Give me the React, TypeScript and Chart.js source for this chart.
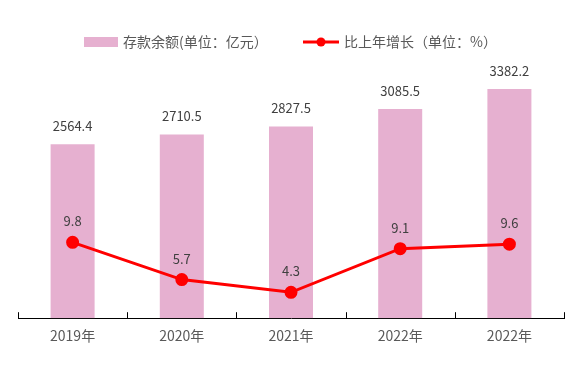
import React, { useEffect, useRef } from "react";
import { Chart, registerables } from "chart.js";

Chart.register(...registerables);

const categories = ["2019年", "2020年", "2021年", "2022年", "2022年"];
const depositValues = [2564.4, 2710.5, 2827.5, 3085.5, 3382.2];
const growthValues = [9.8, 5.7, 4.3, 9.1, 9.6];
const depositLabel = "存款余额(单位：亿元）";
const growthLabel = "比上年增长（单位：%）";

const BAR_MAX = 4000;
const RATE_MIN = 1.45;
const RATE_MAX = 31.3;

const PINK = "rgb(230,176,208)";
const RED = "#ff0000";
const FONT = '"Noto Sans CJK SC", "DejaVu Sans", sans-serif';

const extrasPlugin = {
  id: "extras",
  afterDraw(chart: any) {
    const ctx = chart.ctx as CanvasRenderingContext2D;
    const xs = chart.scales.x;
    ctx.save();
    // upward tick marks at category boundaries
    const n = categories.length;
    ctx.strokeStyle = "#000";
    ctx.lineWidth = 1;
    for (let i = 0; i <= n; i++) {
      const x = Math.round(xs.left + (i * (xs.right - xs.left)) / n) + 0.5;
      ctx.beginPath();
      ctx.moveTo(x, xs.top - 6);
      ctx.lineTo(x, xs.top);
      ctx.stroke();
    }
    // data labels
    ctx.fillStyle = "#404040";
    ctx.font = `13px ${FONT}`;
    ctx.textAlign = "center";
    ctx.textBaseline = "middle";
    const barMeta = chart.getDatasetMeta(1);
    barMeta.data.forEach((el: any, i: number) => {
      ctx.fillText(depositValues[i].toFixed(1), el.x, el.y - 18);
    });
    const lineMeta = chart.getDatasetMeta(0);
    lineMeta.data.forEach((el: any, i: number) => {
      ctx.fillText(growthValues[i].toFixed(1), el.x, el.y - 21);
    });
    // legend
    ctx.font = `14px ${FONT}`;
    ctx.textAlign = "left";
    ctx.fillStyle = PINK;
    ctx.fillRect(84, 37, 34, 10);
    ctx.fillStyle = "#595959";
    ctx.fillText(chart.data.datasets[1].label, 123, 42);
    ctx.strokeStyle = RED;
    ctx.lineWidth = 3;
    ctx.beginPath();
    ctx.moveTo(303, 42);
    ctx.lineTo(339, 42);
    ctx.stroke();
    ctx.fillStyle = RED;
    ctx.beginPath();
    ctx.arc(321, 42, 4.5, 0, Math.PI * 2);
    ctx.fill();
    ctx.fillStyle = "#595959";
    ctx.fillText(chart.data.datasets[0].label, 344, 42);
    ctx.restore();
  },
};

export default function App() {
  const ref = useRef<HTMLCanvasElement>(null);
  useEffect(() => {
    document.body.style.margin = "0";
    const chart = new Chart(ref.current!, {
      type: "bar",
      data: {
        labels: categories,
        datasets: [
          {
            type: "line",
            label: growthLabel,
            data: growthValues,
            yAxisID: "y1",
            borderColor: RED,
            backgroundColor: RED,
            borderWidth: 3,
            pointRadius: 5,
            pointHoverRadius: 5,
            pointBackgroundColor: RED,
            pointBorderColor: RED,
            tension: 0,
            order: 0,
          } as any,
          {
            type: "bar",
            label: depositLabel,
            data: depositValues,
            yAxisID: "y",
            backgroundColor: PINK,
            barPercentage: 0.403,
            categoryPercentage: 1,
            order: 1,
          },
        ],
      },
      options: {
        animation: false,
        responsive: false,
        layout: { padding: { left: 18, right: 19, top: 47, bottom: 31 } },
        plugins: {
          legend: { display: false },
          tooltip: { enabled: false },
        },
        scales: {
          x: {
            offset: true,
            grid: { display: false, drawTicks: false },
            border: { display: true, color: "#000", width: 1 },
            ticks: {
              color: "#595959",
              font: { family: FONT, size: 14 },
              padding: 9,
              maxRotation: 0,
              autoSkip: false,
            },
          },
          y: { display: false, min: 0, max: BAR_MAX },
          y1: { display: false, min: RATE_MIN, max: RATE_MAX },
        },
      },
      plugins: [extrasPlugin],
    });
    return () => chart.destroy();
  }, []);
  return <canvas ref={ref} width={583} height={384} style={{ display: "block" }} />;
}
